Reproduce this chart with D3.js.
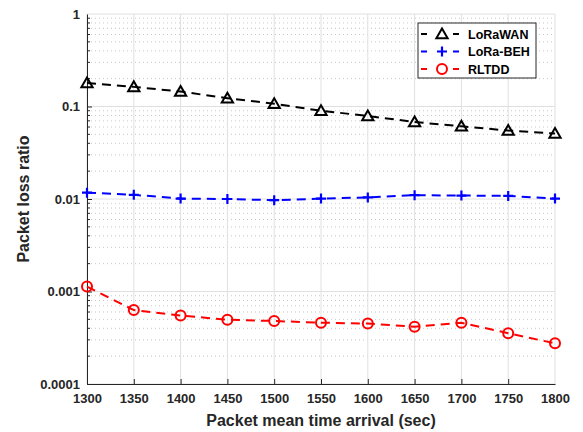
<!DOCTYPE html>
<html><head><meta charset="utf-8">
<script src="https://cdn.jsdelivr.net/npm/d3@7"></script>
<style>body{margin:0;background:#fff}svg{display:block}text{font-family:"Liberation Sans",Arial,sans-serif}</style>
</head><body><svg id="c" width="583" height="432"></svg>
<script>
const xValues = [1300,1350,1400,1450,1500,1550,1600,1650,1700,1750,1800];
const loRaWAN = [0.18,0.163,0.145,0.123,0.107,0.090,0.079,0.068,0.061,0.055,0.051];
const loRaBEH = [0.0117,0.0111,0.0101,0.0100,0.0097,0.0101,0.0104,0.0110,0.0109,0.0108,0.0101];
const rltdd = [0.00113,0.00063,0.00055,0.000495,0.00048,0.00046,0.00045,0.000417,0.00046,0.000354,0.000275];
const yTicks = [0.0001,0.001,0.01,0.1,1];
const yTickLabels = ["0.0001","0.001","0.01","0.1","1"];
const seriesNames = ["LoRaWAN","LoRa-BEH","RLTDD"];

const svg = d3.select("#c");
const L=87, R=555, T=14, B=384;
const x = d3.scaleLinear().domain([1300,1800]).range([L,R]);
const y = d3.scaleLog().domain([0.0001,1]).range([B,T]);

// minor grid
const minor=[];
for(let e=-4;e<0;e++){for(let k=2;k<=9;k++)minor.push(k*Math.pow(10,e));}
svg.append("g").selectAll("line").data(minor).join("line")
 .attr("x1",L).attr("x2",R).attr("y1",d=>y(d)).attr("y2",d=>y(d))
 .attr("stroke","#c8c8c8").attr("stroke-width",1).attr("stroke-dasharray","1,3");
// major grid
svg.append("g").selectAll("line").data(yTicks).join("line")
 .attr("x1",L).attr("x2",R).attr("y1",d=>y(d)).attr("y2",d=>y(d))
 .attr("stroke","#e0e0e0").attr("stroke-width",1);
svg.append("g").selectAll("line").data(xValues).join("line")
 .attr("x1",d=>x(d)).attr("x2",d=>x(d)).attr("y1",T).attr("y2",B)
 .attr("stroke","#e0e0e0").attr("stroke-width",1);

// axes
const yAxis = d3.axisLeft(y).tickValues(yTicks).tickFormat((d,i)=>yTickLabels[i]).tickSizeInner(-5).tickSizeOuter(0).tickPadding(7);
const gy = svg.append("g").attr("transform",`translate(${L},0)`).call(yAxis);
gy.selectAll(".tick").filter(d=>d===1).select("line").remove();
svg.append("g").attr("transform",`translate(${L},0)`).selectAll("line").data(minor).join("line")
 .attr("x1",0).attr("x2",3).attr("y1",d=>y(d)).attr("y2",d=>y(d)).attr("stroke","#262626");
const xAxis = d3.axisBottom(x).tickValues(xValues).tickFormat(d3.format("d")).tickSizeInner(-5).tickSizeOuter(0).tickPadding(10);
const gx = svg.append("g").attr("transform",`translate(0,${B})`).call(xAxis);
[gx,gy].forEach(g=>{
  g.select(".domain").attr("stroke","#262626").attr("stroke-width",1);
  g.selectAll(".tick line").attr("stroke","#262626");
  g.selectAll("text").attr("font-size",13).attr("font-weight","bold").attr("fill","#262626");
});
gx.selectAll(".tick").filter(d=>d===1800).select("line").remove();

svg.append("text").attr("x",(L+R)/2).attr("y",426).attr("text-anchor","middle")
 .attr("font-size",16).attr("font-weight","bold").attr("fill","#262626").text("Packet mean time arrival (sec)");
svg.append("text").attr("transform",`translate(29,${(T+B)/2}) rotate(-90)`).attr("text-anchor","middle")
 .attr("font-size",16).attr("font-weight","bold").attr("fill","#262626").text("Packet loss ratio");

const series = [
 {name:seriesNames[0],data:loRaWAN,color:"#000000",marker:"tri"},
 {name:seriesNames[1],data:loRaBEH,color:"#0000ff",marker:"plus"},
 {name:seriesNames[2],data:rltdd,color:"#ff0000",marker:"circ"}
];
const line = d3.line().x((d,i)=>x(xValues[i])).y(d=>y(d));
function drawMarker(g,type,color,cx,cy){
  if(type==="tri"){
    g.append("path").attr("d",d3.symbol(d3.symbolTriangle,55)()).attr("transform",`translate(${cx},${cy+1})`)
     .attr("fill","none").attr("stroke",color).attr("stroke-width",2);
  } else if(type==="plus"){
    g.append("path").attr("d",`M${cx-5},${cy}H${cx+5}M${cx},${cy-5}V${cy+5}`).attr("stroke",color).attr("stroke-width",2.2);
  } else {
    g.append("circle").attr("cx",cx).attr("cy",cy).attr("r",5).attr("fill","none").attr("stroke",color).attr("stroke-width",2);
  }
}
series.forEach(s=>{
  svg.append("path").datum(s.data).attr("d",line).attr("fill","none").attr("stroke",s.color)
   .attr("stroke-width",2).attr("stroke-dasharray","9,6");
  const g=svg.append("g");
  s.data.forEach((d,i)=>drawMarker(g,s.marker,s.color,x(xValues[i]),y(d)));
});

// legend
const lg = svg.append("g");
lg.append("rect").attr("x",418).attr("y",23).attr("width",118).attr("height",55).attr("fill","#fff").attr("stroke","#262626").attr("stroke-width",1);
series.forEach((s,i)=>{
  const yy=34+i*17.5;
  lg.append("line").attr("x1",421).attr("x2",463).attr("y1",yy).attr("y2",yy).attr("stroke",s.color).attr("stroke-width",2).attr("stroke-dasharray","6,26");
  drawMarker(lg,s.marker,s.color,442,yy);
  lg.append("text").attr("x",468).attr("y",yy+4.5).attr("font-size",12.5).attr("font-weight","bold").attr("fill","#000").text(s.name);
});
</script></body></html>
